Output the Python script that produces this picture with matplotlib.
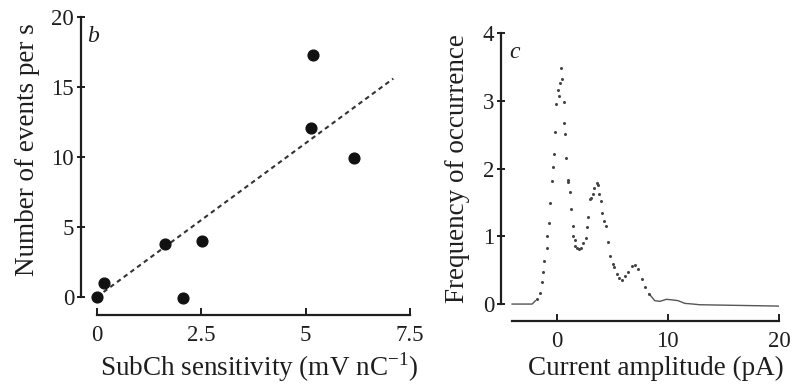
import matplotlib
matplotlib.use("Agg")
import matplotlib.pyplot as plt

plt.rcParams['font.family'] = ['Liberation Serif', 'DejaVu Serif']
plt.rcParams['mathtext.fontset'] = 'custom'
plt.rcParams['mathtext.rm'] = 'Liberation Serif'

# ---- panel b data ----
sens_x = [0.0, 0.17, 1.64, 2.06, 2.51, 5.12, 5.17, 6.16]
events_y = [0.0, 1.0, 3.8, -0.05, 4.0, 12.05, 17.3, 9.95]
fit_x = [0.0, 7.1]
fit_y = [0.0, 15.6]
b_xticks = [0, 2.5, 5, 7.5]
b_xticklabels = ['0', '2.5', '5', '7.5']
b_yticks = [0, 5, 10, 15, 20]

# ---- panel c data ----
peak_x = [-1.8, -1.5, -1.35, -1.2, -1.11, -0.9, -0.84, -0.69, -0.6, -0.45,
          -0.36, -0.24, -0.18, -0.06, 0.09, 0.21, 0.3, 0.39, 0.5, 0.63,
          0.63, 0.77, 0.84, 0.99, 1.04, 1.19, 1.28, 1.44, 1.5, 1.64,
          1.64, 1.8, 2.03, 2.2, 2.39, 2.63, 2.75, 2.84, 2.99, 3.05,
          3.29, 3.38, 3.59, 3.74, 3.8, 3.98, 4.04, 4.25, 4.43, 4.62,
          4.79, 5.03, 5.2, 5.39, 5.6, 5.84, 6.14, 6.43, 6.74, 7.03,
          7.28, 7.64, 7.93, 8.32]
peak_y = [0.07, 0.17, 0.32, 0.47, 0.64, 0.82, 1.0, 1.2, 1.49, 1.82,
          2.02, 2.21, 2.54, 2.95, 3.16, 3.07, 3.26, 3.48, 3.32, 2.98,
          2.67, 2.51, 2.16, 1.83, 1.8, 1.66, 1.41, 1.15, 1.0, 0.95,
          0.86, 0.82, 0.81, 0.83, 0.9, 0.98, 1.13, 1.28, 1.55, 1.56,
          1.62, 1.72, 1.78, 1.75, 1.62, 1.52, 1.35, 1.23, 1.15, 0.92,
          0.71, 0.59, 0.55, 0.45, 0.38, 0.36, 0.41, 0.47, 0.56, 0.57,
          0.52, 0.37, 0.25, 0.15]
base_x = [-4.0, -2.2, -1.9]
base_y = [0.0, 0.0, 0.05]
tail_x = [8.32, 8.83, 9.28, 9.88, 10.48, 10.93, 11.53, 12.27, 12.87, 20.0]
tail_y = [0.15, 0.05, 0.04, 0.07, 0.06, 0.05, 0.01, 0.0, -0.01, -0.03]
c_xticks = [0, 10, 20]
c_yticks = [0, 1, 2, 3, 4]

ink = '#1e1e1e'
fig = plt.figure(figsize=(8.08, 3.85), dpi=100)

def style(ax, xb, yb):
    for s in ('top', 'right'):
        ax.spines[s].set_visible(False)
    for s in ('left', 'bottom'):
        ax.spines[s].set_linewidth(1.6)
        ax.spines[s].set_color(ink)
    ax.spines['bottom'].set_bounds(*xb)
    ax.spines['left'].set_bounds(*yb)
    ax.tick_params(axis='x', direction='in', length=5, width=1.4, pad=7,
                   labelsize=16.5, colors=ink)
    ax.tick_params(axis='y', direction='inout', length=6, width=1.4, pad=2,
                   labelsize=16.5, colors=ink)

# panel b
axb = fig.add_axes([81/808, 70/385, 329/808, 298/385])
axb.set_xlim(-0.38, 7.5)
axb.set_ylim(-1.29, 20)
axb.plot(fit_x, fit_y, linestyle=(0, (2.2, 1.8)), color='#333333', linewidth=1.5)
axb.scatter(sens_x, events_y, s=60, color='#111111', zorder=3, clip_on=False)
style(axb, (0, 7.5), (0, 20))
axb.set_xticks(b_xticks)
axb.set_xticklabels(b_xticklabels)
axb.set_yticks(b_yticks)
axb.set_xlabel('SubCh sensitivity (mV nC$^{-1}$)', fontsize=19.5, color=ink)
axb.xaxis.label.set_verticalalignment('center')
axb.xaxis.set_label_coords(0.541, -0.174)
axb.set_ylabel('Number of events per s', fontsize=19.5, color=ink)
axb.yaxis.label.set_verticalalignment('center')
axb.yaxis.set_label_coords(-0.164, 0.554)
axb.text(0.036, 0.936, 'b', transform=axb.transAxes, fontsize=17,
         style='italic', ha='center', va='center', color=ink)

# panel c
axc = fig.add_axes([501/808, 64/385, 278/808, 288/385])
axc.set_xlim(-5, 20)
axc.set_ylim(-0.25, 4)
axc.plot(base_x, base_y, color='#555555', linewidth=1.0)
axc.plot(tail_x, tail_y, color='#555555', linewidth=1.0)
axc.plot(peak_x, peak_y, linestyle='none', marker='o', markersize=2.2,
         color='#444444', markeredgewidth=0)
style(axc, (-4, 20), (0, 4))
axc.set_xticks(c_xticks)
axc.set_yticks(c_yticks)
axc.set_xlabel('Current amplitude (pA)', fontsize=19.5, color=ink)
axc.xaxis.label.set_verticalalignment('center')
axc.xaxis.set_label_coords(0.558, -0.163)
axc.set_ylabel('Frequency of occurrence', fontsize=19.5, color=ink)
axc.yaxis.label.set_verticalalignment('center')
axc.yaxis.set_label_coords(-0.158, 0.528)
axc.text(0.05, 0.934, 'c', transform=axc.transAxes, fontsize=17,
         style='italic', ha='center', va='center', color=ink)

fig.savefig('out.png', dpi=100)
